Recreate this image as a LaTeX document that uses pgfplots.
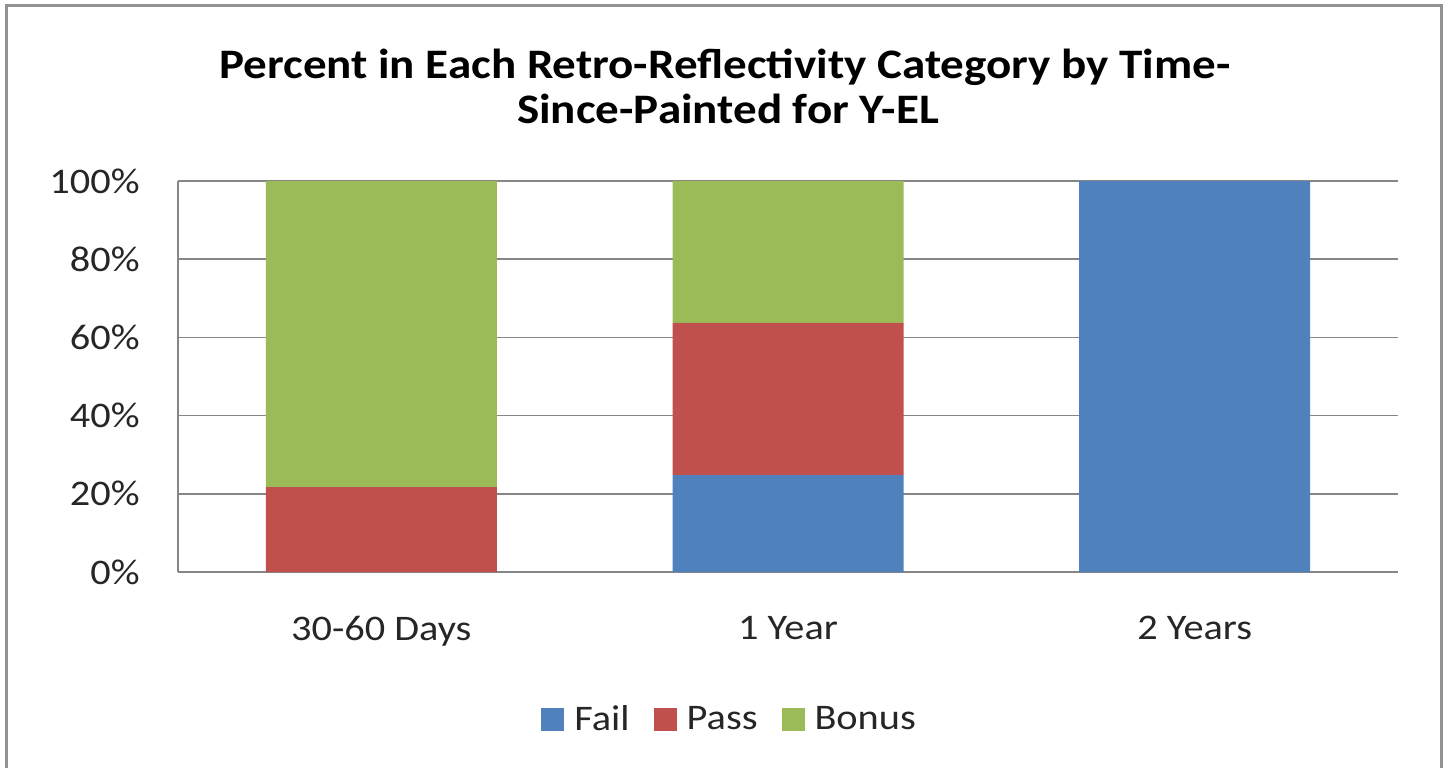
\documentclass[border=0pt]{standalone}
\usepackage{pgfplots}
\pgfplotsset{compat=1.18}
\usepackage{fontspec}
\setmainfont{Carlito}[FakeStretch=1.12]
\definecolor{cfail}{HTML}{4F81BD}
\definecolor{cpass}{HTML}{C0504D}
\definecolor{cbonus}{HTML}{9BBB59}
\definecolor{cgrid}{RGB}{134,134,134}
\begin{document}
\begin{tikzpicture}
\useasboundingbox (0pt,0pt) rectangle (725pt,383.5pt);
\draw[color=cgrid!90, line width=1.5pt] (3pt,-20pt) -- (3pt,380.5pt) -- (720.5pt,380.5pt) -- (720.5pt,-20pt);
\node[font=\fontsize{21}{22.5}\selectfont\bfseries, anchor=base, inner sep=0pt] at (362.5pt,344pt) {Percent in Each Retro-Reflectivity Category by Time-};
\node[font=\fontsize{21}{22.5}\selectfont\bfseries, anchor=base, inner sep=0pt] at (364pt,321.5pt) {Since-Painted for Y-EL};
\begin{axis}[
  at={(89pt,97.5pt)}, anchor=south west,
  scale only axis, width=610pt, height=195.5pt,
  ybar stacked, bar width=115.5pt,
  xmin=-0.5, xmax=2.5, ymin=0, ymax=100,
  xtick={0,1,2}, xticklabels={30-60 Days,1 Year,2 Years},
  ytick={0,20,40,60,80,100},
  yticklabel={\pgfmathprintnumber{\tick}\%},
  /pgf/number format/assume math mode=true,
  ymajorgrids, grid style={color=cgrid, line width=0.75pt},
  axis x line*=bottom, axis y line*=left,
  axis line style={color=cgrid, line width=0.75pt},
  major tick length=0pt, tick style={draw=none},
  ticklabel style={font=\fontsize{18}{21}\selectfont, text=black!85},
  yticklabel style={inner sep=0pt, anchor=east, xshift=-19pt},
  xticklabel style={inner sep=0pt, anchor=north, yshift=-22pt},
  legend style={at={(0.453,-0.378)}, anchor=center, draw=none,
    legend columns=3, font=\fontsize{18}{21}\selectfont, text=black!85,
    /tikz/every odd column/.append style={column sep=3pt},
    /tikz/every even column/.append style={column sep=10pt}},
  legend image code/.code={\fill[#1] (0pt,-5.75pt) rectangle (11.5pt,5.75pt);},
]
\addplot[fill=cfail, draw=none] coordinates {(0,0) (1,24.8) (2,100)};
\addplot[fill=cpass, draw=none] coordinates {(0,21.7) (1,38.9) (2,0)};
\addplot[fill=cbonus, draw=none] coordinates {(0,78.3) (1,36.3) (2,0)};
\legend{Fail,Pass,Bonus}
\end{axis}
\end{tikzpicture}
\end{document}
